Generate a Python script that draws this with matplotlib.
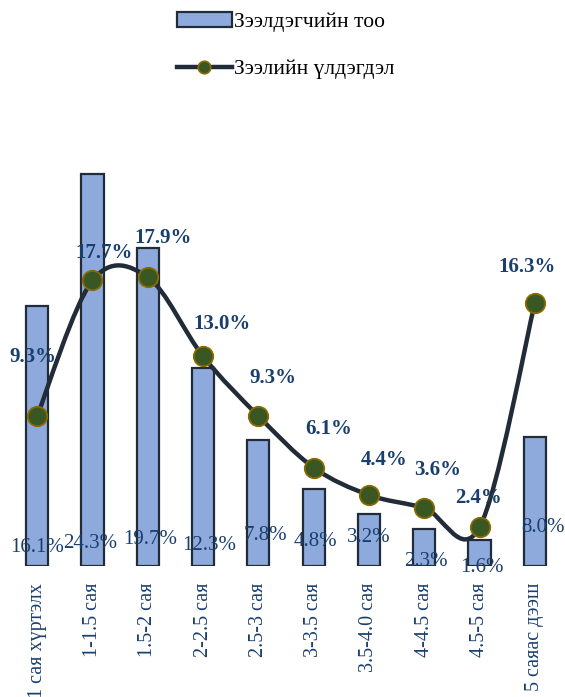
import matplotlib
matplotlib.use("Agg")
import matplotlib.pyplot as plt
import numpy as np
from matplotlib.path import Path
from matplotlib.patches import PathPatch
from matplotlib.lines import Line2D
from matplotlib.patches import Patch

plt.rcParams["font.family"] = ["Liberation Serif", "DejaVu Serif"]

categories = ["1 сая хүртэлх", "1-1.5 сая", "1.5-2 сая", "2-2.5 сая", "2.5-3 сая",
              "3-3.5 сая", "3.5-4.0 сая", "4-4.5 сая", "4.5-5 сая", "5 саяас дээш"]
borrowers = [16.1, 24.3, 19.7, 12.3, 7.8, 4.8, 3.2, 2.3, 1.6, 8.0]
balance = [9.3, 17.7, 17.9, 13.0, 9.3, 6.1, 4.4, 3.6, 2.4, 16.3]

# label nudges in pixels (dx, dy)
bar_lbl_off = [(0, 19), (-2, 23), (2, 26), (6, 21), (7, 31),
               (2, 24), (0, 28), (2, 4), (2, -1), (8, 39)]
line_lbl_off = [(-4, 59), (12, 27), (15, 39), (19, 32), (15, 38),
                (15, 39), (15, 35), (13, 38), (-1, 29), (-8, 36)]

BAR_FILL = "#8eaadc"
BAR_EDGE = "#222b38"
LINE_COL = "#222b38"
MK_FILL = "#385723"
MK_EDGE = "#8a6a00"
TXT = "#1a3f6e"

fig = plt.figure(figsize=(5.65, 6.97), dpi=100)
ax = fig.add_axes([9.5 / 565, 131 / 697, 553 / 565, 484 / 697])
x = np.arange(len(categories))

ax.bar(x, borrowers, width=0.4, color=BAR_FILL, edgecolor=BAR_EDGE, linewidth=1.6, zorder=2)


def smooth_path(xs, ys):
    # cubic bezier through every point, control points from neighbours
    pts = np.column_stack([xs, ys]).astype(float)
    ext = np.vstack([pts[0], pts, pts[-1]])
    verts = [pts[0]]
    codes = [Path.MOVETO]
    for i in range(len(pts) - 1):
        p0, p1, p2, p3 = ext[i], ext[i + 1], ext[i + 2], ext[i + 3]
        c1 = p1 + (p2 - p0) / 6
        c2 = p2 - (p3 - p1) / 6
        verts += [c1, c2, p2]
        codes += [Path.CURVE4] * 3
    return Path(verts, codes)


ax.add_patch(PathPatch(smooth_path(x, balance), facecolor="none", edgecolor=LINE_COL,
                       linewidth=3.2, capstyle="round", zorder=3))
ax.plot(x, balance, linestyle="none", marker="o", markersize=14, markerfacecolor=MK_FILL,
        markeredgecolor=MK_EDGE, markeredgewidth=1.3, zorder=4)

px = 72 / fig.dpi
for xi, v, (dx, dy) in zip(x, borrowers, bar_lbl_off):
    ax.annotate(f"{v:.1f}%", (xi, 0), xytext=(dx * px, dy * px), textcoords="offset points",
                ha="center", va="center", fontsize=15, color=TXT, zorder=5)
for xi, v, (dx, dy) in zip(x, balance, line_lbl_off):
    ax.annotate(f"{v:.1f}%", (xi, v), xytext=(dx * px, dy * px), textcoords="offset points",
                ha="center", va="center", fontsize=15, fontweight="bold", color=TXT, zorder=5)

ax.set_xlim(-0.5, len(categories) - 0.5)
ax.set_ylim(0, 30)
ax.set_xticks(x)
ax.set_xticklabels(categories, rotation=90, fontsize=14.5, color=TXT, va="top")
ax.tick_params(axis="x", length=0, pad=12)
ax.set_yticks([])
for s in ax.spines.values():
    s.set_visible(False)
ax.patch.set_alpha(0)

handles = [Patch(facecolor=BAR_FILL, edgecolor=BAR_EDGE, linewidth=1.6),
           Line2D([], [], color=LINE_COL, linewidth=3.2, marker="o", markersize=9,
                  markerfacecolor=MK_FILL, markeredgecolor=MK_EDGE, markeredgewidth=1.2)]
fig.legend(handles, ["Зээлдэгчийн тоо", "Зээлийн үлдэгдэл"], loc="upper left",
           bbox_to_anchor=(177 / 565, 1 - 12 / 697), frameon=False, fontsize=15.5,
           handlelength=2.55, handletextpad=0.12, labelspacing=1.25, borderpad=0,
           borderaxespad=0)

fig.savefig("out.png", dpi=100)
